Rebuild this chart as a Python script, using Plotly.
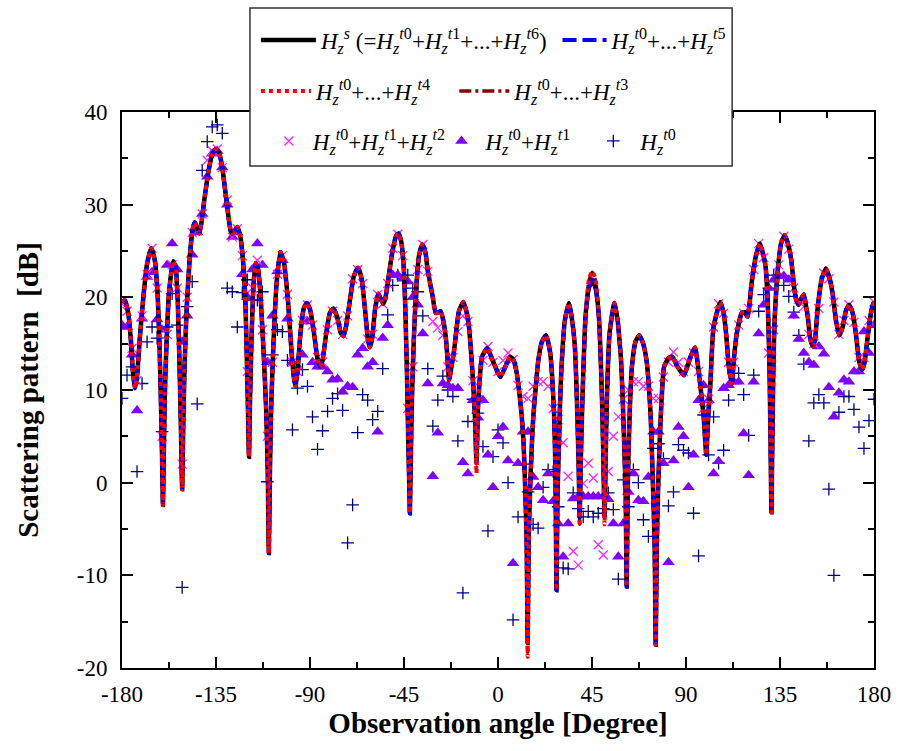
import numpy as np
import plotly.graph_objects as go

FONT = "Liberation Serif"

# ---------------- main curve H_z^s ----------------
ang = [-180, -178.6, -177, -175.8, -174.8, -173.8, -172.8, -171.5, -170, -168, -166, -164.3, -163, -162, -161.3,
       -160.8, -160.4, -160, -159.5, -158.7, -157.5, -155.5, -154.3, -153.3, -152.5, -151.8, -151.2, -150.7, -150,
       -149, -147.5, -146.2, -145.2, -144, -143, -142, -140.6, -138.2, -136.5, -135, -133.5, -132, -130.3, -128,
       -127.1, -126, -124.8, -123.3, -122.2, -121, -120.3, -119.7, -119.2, -118.7, -118, -117, -116, -114.8, -113.5,
       -112.2, -111, -110.2, -109.7, -109.2, -108.6, -107.5, -106, -104.2, -102.5, -100.5, -98.8, -97.8, -97, -96,
       -94.5, -93, -91.5, -90, -88.3, -86.5, -85.2, -84, -82.3, -80.5, -78.8, -77, -75.3, -74, -72.8, -71, -69, -67,
       -65.3, -63.5, -62.3, -61.4, -60.3, -58.8, -57.3, -56, -55, -54, -52.5, -50.5, -48.8, -47.6, -46.3, -45.2,
       -44.4, -43.6, -43, -42.5, -42.2, -41.8, -41.2, -40.3, -39.2, -37.8, -36.2, -34.7, -33.7, -31.3, -29.8, -28.5,
       -27.4, -26.2, -25, -24.2, -23.4, -22.3, -21, -18.7, -16.6, -14.8, -13.9, -12.7, -11.9, -11, -10.3, -9.6,
       -8.8, -7.6, -5.2, -2, 1.1, 3.5, 5.8, 7.5, 9, 10.3, 11.4, 12.3, 13, 13.7, 14.2, 14.7, 15.4, 16.9, 19.3, 21,
       23, 25, 25.9, 26.9, 27.5, 28, 28.5, 29.1, 29.7, 30.4, 32, 34, 35.5, 36.7, 37.4, 38, 38.6, 39.1, 39.6, 40.4,
       41.9, 43.5, 45.1, 46.7, 48.3, 49.8, 50.5, 51, 51.5, 52.1, 53.4, 55.7, 57.3, 58.1, 58.9, 59.7, 60.5, 61.1,
       61.6, 62.1, 62.5, 63.2, 64.1, 65.8, 67.6, 69.5, 71.1, 72.2, 73.1, 74.4, 75, 75.5, 76, 76.6, 77.9, 79.5,
       81.5, 83.4, 86, 89, 92, 94.3, 95.8, 96.9, 98.5, 99.7, 100.6, 101.6, 103.2, 106.4, 108, 109.2, 110.5, 111.9,
       113, 114.3, 116.7, 118, 119.5, 121.4, 123.5, 125.4, 127, 128.1, 129.2, 130, 130.5, 130.9, 131.3, 131.8,
       132.5, 134.1, 135.5, 137.2, 138.8, 140.4, 141.8, 142.8, 143.9, 145, 146.4, 147.5, 148.3, 149.5, 150.7,
       151.8, 153.1, 155, 157, 158.8, 160.2, 161.8, 163.4, 165, 166.5, 168.1, 169.8, 171.3, 173, 174.4, 175.5,
       176.8, 178.3, 179.2, 180]
hs = [19.5, 19.7, 18.3, 15.5, 12, 10.2, 11.5, 15.5, 19.5, 23.6, 25.3, 24, 20.5, 14.5, 8,
      2.5, -2.4, 3, 9.5, 15, 20.5, 23.9, 23.2, 19.5, 13, 6, -0.7, 6, 13,
      19, 24.5, 27.3, 28.1, 27.5, 26.9, 28, 30.5, 34.1, 35.6, 36, 35.6, 34, 31, 27.2,
      26.9, 27.2, 27.6, 26.5, 24.3, 20, 14, 8, 2.8, 9, 15.5, 21.5, 23.7, 23, 19.5,
      14, 8, 1, -7.6, 1, 8, 15, 21.5, 24.9, 23.8, 19.5, 14, 11.5, 10.4, 12,
      16.3, 18.8, 19.4, 18.7, 16.5, 13.5, 12.5, 13.2, 16, 18.3, 18.8, 17.9, 16.2, 15.8, 16.8, 19.5, 22.3, 23.2,
      22, 18.3, 15.5, 14.6, 15.5, 18.8, 20.4, 19.8, 19.3, 19.8, 22, 25, 26.6, 26.9, 26, 23.5,
      19, 12, 5, 0, -3.3, 2, 9, 15.5, 20.8, 24.5, 25.7, 24.8, 23, 20.1, 18.3, 18.4,
      18.5, 17.5, 15.7, 13.5, 11.1, 12.5, 14.3, 18.5, 19.5, 18.2, 16.8, 13.5, 10.7, 7, 2.1, 8,
      11, 13.6, 14.5, 12.9, 11.4, 12.5, 13.6, 13.2, 11.8, 9.5, 7.1, 4, -0.5, -6, -17.3, -6, -0.5, 7.1, 13.2, 15.2,
      15.9, 14, 11.5, 7.1, 1, -11.6, -1, 3.5, 8.5, 12.5, 17.5, 19.4, 17.5, 15, 11.5, 7.1, 2, -3.7, 2, 8.9,
      17.9, 21, 21.9, 21, 17.9, 8.9, 2, -3.7, 2, 8.9, 16.1, 19.4, 17.5, 15.5, 13.2, 9, 3.5, -1,
      -11.2, -1, 3.5, 8.5, 12.5, 15.2, 15.9, 15, 13.2, 10.5, 7.1, -1.9, -7, -17.5, -7, -1, 7.1, 12.5,
      13.4, 13.6, 12.5, 11.6, 13.5, 14.6, 12.5, 10.4, 7, 3, 7, 10.4, 16.8, 19.5, 18.3, 16.1, 12.5, 10.7,
      13.5, 16.1, 18.3, 18.4, 17.9, 21.5, 24.5, 25.8, 24.6, 23.3, 19, 12, 4, -3.2, 4, 12,
      18, 23.3, 25.8, 26.7, 25.8, 24, 21, 19.7, 19.2, 19.8, 20.3, 19, 17.9, 15.5, 14.7,
      15.5, 19, 22, 23.1, 22, 20.4, 17.5, 15.9, 16.8, 18.5, 19.2, 18.3, 16.1, 13, 12.2, 13,
      15.4, 18, 19, 19.5]

# values where the truncated sums (t0..t4 / t0..t3) differ visibly from H_z^s
t4_diff = {-10.3: 1.0, 13.7: -7.5, 14.2: -18.8, 14.7: -7.5, 39.1: -4.7, 43.5: 21.9, 45.1: 22.8,
           46.7: 21.9, 51: -4.5}
t3_diff = {14.2: -18.3, 39.1: -4.5, 43.5: 21.8, 45.1: 22.7, 46.7: 21.8}

# ---------------- sampled series (2.4 deg grid) ----------------
grid = np.round(np.linspace(-180, 180, 151), 1)

t012 = [19.3, 18.5, 14.5, 11.0, 18.0, 22.5, 25.3, 21.0, 5.0, 16.0,
        23.5, 21.0, 2.0, 20.0, 27.0, 27.2, 29.0, 34.8, 35.8, 36.0,
        34.0, 30.5, 26.5, 27.4, 24.5, 12.0, 21.0, 24.0, 16.5, 5.0,
        13.0, 22.5, 24.5, 20.3, 13.0, 12.0, 17.5, 19.2, 17.0, 13.5,
        13.0, 16.5, 18.5, 17.5, 16.0, 18.0, 22.0, 23.0, 21.5, 15.5,
        16.0, 20.3, 19.3, 21.5, 25.3, 26.8, 24.5, 8.0, 12.5, 23.0,
        25.7, 22.8, 17.4, 16.7, 15.9, 12.5, 13.5, 16.3, 18.0, 17.4,
        11.0, 9.0, 13.2, 14.7, 13.0, 12.0, 13.2, 14.0, 13.3, 10.5,
        9.3, 9.1, 10.4, 10.9, 10.9, 10.4, 8.0, 6.8, 4.3, 0.7,
        -7.4, -8.9, -0.1, 2.1, 0.5, -6.7, -7.8, 1.2, 5.0, 7.1,
        9.0, 10.0, 10.9, 10.9, 10.4, 10.4, 9.1, 9.1, 11.4, 13.0,
        14.1, 13.0, 12.0, 13.0, 14.0, 12.0, 8.0, 9.0, 16.8, 19.3,
        18.3, 13.0, 13.0, 17.0, 18.3, 18.8, 23.0, 25.8, 24.3, 14.0,
        16.5, 23.5, 26.6, 25.2, 21.0, 19.8, 19.0, 16.0, 15.0, 18.8,
        22.6, 22.0, 19.5, 16.0, 17.5, 19.2, 17.3, 13.5, 13.5, 17.5,
        19.5]

t01 = [17.0, 16.8, 13.8, 7.8, 17.7, 22.2, 22.7, 17.6, 16.5, 23.5,
       25.8, 23.0, 15.2, 18.0, 24.6, 27.0, 29.0, 33.0, 35.5, 35.8,
       34.0, 30.0, 26.5, 27.0, 22.5, 20.0, 23.0, 25.8, 23.5, 13.0,
       18.0, 22.8, 24.0, 17.7, 13.0, 12.5, 13.8, 17.4, 13.0, 12.5,
       12.5, 12.0, 11.1, 11.2, 9.8, 10.4, 10.3, 13.8, 14.5, 12.5,
       13.0, 5.5, 15.6, 17.0, 22.4, 22.4, 22.0, 21.7, 20.0, 19.2,
       16.1, 10.7, 0.7, 5.4, 10.7, 10.5, 10.2, 10.2, 2.2, 1.0,
       8.9, 7.0, 8.9, 3.0, -0.5, 5.0, 6.0, 2.4, -8.7, 2.1,
       5.5, 5.5, 0.6, -0.5, -1.9, 1.0, -2.0, -4.4, -8.0, -4.4,
       -1.7, -1.5, -1.5, -1.5, -1.5, -1.5, -1.5, -1.8, -4.4, -8.0,
       -4.4, -1.0, 1.0, -1.9, -2.0, 0.6, 5.5, 5.5, 2.1, -8.6,
       2.4, 6.0, 5.0, -0.5, 3.0, 8.9, 10.5, 8.9, 1.0, 2.3,
       10.2, 10.5, 10.9, 10.9, 5.3, 0.8, 10.9, 16.1, 19.2, 21.0,
       21.9, 22.3, 22.3, 21.9, 18.0, 15.5, 14.0, 13.0, 12.7, 14.7,
       13.9, 10.3, 7.1, 9.7, 11.1, 10.9, 12.0, 12.0, 16.3, 14.0,
       17.0]

t0 = [9.1, 11.6, 12.5, 1.2, 10.7, 15.2, 16.8, 15.6, 5.5, 16.8,
      20.4, 17.0, -11.3, 19.0, 21.7, 8.5, 33.7, 36.8, 38.4, 38.6,
      37.7, 21.0, 20.6, 16.8, 20.5, 21.9, 19.7, 19.7, 20.6, 0.1,
      13.8, 16.5, 16.3, 13.2, 5.7, 10.2, 12.2, 10.4, 7.1, 3.6,
      5.6, 7.7, 9.1, 9.6, 7.8, -6.5, -2.4, 5.4, 9.5, 8.9,
      6.8, 7.7, 12.3, 18.1, 21.3, 22.4, 22.0, 22.4, 21.0, 20.6,
      18.0, 12.3, 6.1, 8.9, 11.5, 10.0, 9.3, 4.5, -11.9, 6.6,
      9.0, 7.5, 3.9, -5.2, 2.8, 5.7, 4.3, 0.0, -14.8, -3.7,
      2.0, -1.0, -4.5, -4.9, -0.5, 1.4, 1.2, -2.6, -9.2, -9.3,
      -1.1, -2.8, -3.7, -3.1, -3.7, -3.3, -2.8, -1.1, -2.9, -10.4,
      0.3, -2.6, 1.4, 0.0, -4.0, -5.8, 3.7, 4.2, 2.6, -2.5,
      -1.0, 4.1, 3.5, 3.2, -3.3, -7.9, 7.3, 3.0, 7.1, 2.1,
      3.5, 8.9, 11.8, 11.8, 9.5, 5.1, 11.6, 18.5, 20.3, 21.0,
      22.4, 22.4, 21.3, 20.1, 18.4, 15.9, 12.8, 4.5, 8.6, 9.5,
      8.6, -0.7, -10.0, 7.6, 9.3, 9.3, 7.9, 6.0, 3.7, 6.7,
      9.0]

x_ticks = [-180, -135, -90, -45, 0, 45, 90, 135, 180]
x_ticktext = ["-180", "-135", "-90", "-45", "0", "45", "90", "135", "180"]
y_ticks = [-20, -10, 0, 10, 20, 30, 40]
y_ticktext = ["-20", "-10", "0", "10", "20", "30", "40"]


def hz(sup, z="<i>z</i>"):
    return f"<i>H</i><sub>{z}</sub><sup><i>t</i>{sup}</sup>"


names = {
    "hs": "<i>H</i><sub><i>z</i></sub><sup><i>s</i></sup> (=" + hz("0") + "+" + hz("1") + "+...+" + hz("6") + ")",
    "t5": hz("0") + "+...+" + hz("5"),
    "t4": hz("0") + "+...+" + hz("4"),
    "t3": hz("0") + "+...+" + hz("3"),
    "t2": hz("0") + "+" + hz("1") + "+" + hz("2"),
    "t1": hz("0") + "+" + hz("1", "z"),
    "t0": hz("0"),
}

t4_y = [t4_diff.get(a, v) for a, v in zip(ang, hs)]
t3_y = [t3_diff.get(a, v) for a, v in zip(ang, hs)]

fig = go.Figure()

# scattered sums first
fig.add_trace(go.Scatter(x=grid, y=t0, mode="markers", name=names["t0"], legend="legend7",
                         marker=dict(symbol="cross-thin", size=9, color="#000080",
                                     line=dict(width=1.3, color="#000080"))))
fig.add_trace(go.Scatter(x=grid, y=t01, mode="markers", name=names["t1"], legend="legend6",
                         marker=dict(symbol="triangle-up", size=11, color="#8000FF",
                                     line=dict(width=0))))
fig.add_trace(go.Scatter(x=grid, y=t012, mode="markers", name=names["t2"], legend="legend5",
                         marker=dict(symbol="x-thin", size=9, color="#FF22FF",
                                     line=dict(width=1.3, color="#FF22FF"))))

spl = dict(shape="spline", smoothing=0.5)
fig.add_trace(go.Scatter(x=ang, y=t3_y, mode="lines", name=names["t3"], legend="legend4",
                         line=dict(color="#8B0000", width=3.5, dash="12px,4px,3px,4px", **spl)))
fig.add_trace(go.Scatter(x=ang, y=hs, mode="lines", name=names["hs"], legend="legend",
                         line=dict(color="black", width=4.5, **spl)))
fig.add_trace(go.Scatter(x=ang, y=hs, mode="lines", name=names["t5"], legend="legend2",
                         line=dict(color="#0000FF", width=4, dash="14px,6px", **spl)))
fig.add_trace(go.Scatter(x=ang, y=t4_y, mode="lines", name=names["t4"], legend="legend3",
                         line=dict(color="#FF0000", width=4, dash="dot", **spl)))

L, R, T, B = 122, 23, 112, 83
W, Hh = 903, 751
pw, ph = W - L - R, Hh - T - B


def px(xp):
    return (xp - L) / pw


def py(yp):
    return (Hh - B - yp) / ph


leg_font = dict(family=FONT, size=23, color="black")
# (x_px, y_px, itemwidth)
legend_pos = {"legend": (257, 40, 55), "legend2": (561, 40, 44), "legend3": (257, 91, 50),
              "legend4": (457, 91, 50), "legend5": (266, 141, 38), "legend6": (440, 141, 38),
              "legend7": (590, 141, 44)}
legends = {k: dict(x=px(v[0]), y=py(v[1]), itemwidth=v[2], bgcolor="rgba(0,0,0,0)", borderwidth=0,
                   xanchor="left", yanchor="middle", font=leg_font)
           for k, v in legend_pos.items()}

axis_common = dict(showline=True, linewidth=2, linecolor="black", mirror="allticks",
                   ticks="inside", ticklen=11, tickwidth=2, tickcolor="black",
                   showgrid=False, zeroline=False,
                   tickfont=dict(family=FONT, size=23, color="black"))

fig.update_layout(
    width=W, height=Hh,
    margin=dict(l=L, r=R, t=T, b=B),
    paper_bgcolor="white", plot_bgcolor="white",
    showlegend=True,
    xaxis=dict(range=[-180, 180], tickvals=x_ticks, ticktext=x_ticktext,
               minor=dict(ticks="inside", ticklen=6, tickwidth=2, tickcolor="black",
                          tickvals=[-157.5, -112.5, -67.5, -22.5, 22.5, 67.5, 112.5, 157.5]),
               title=dict(text="<b>Observation angle [Degree]</b>", standoff=3,
                          font=dict(family=FONT, size=29, color="black")),
               ticklabelstandoff=4, **axis_common),
    yaxis=dict(range=[-20, 40], tickvals=y_ticks, ticktext=y_ticktext,
               minor=dict(ticks="inside", ticklen=6, tickwidth=2, tickcolor="black",
                          tickvals=[-15, -5, 5, 15, 25, 35]),
               title=dict(text="<b>Scattering pattern \u00a0[dB]</b>", standoff=30,
                          font=dict(family=FONT, size=29, color="black")),
               ticklabelstandoff=8, **axis_common),
    shapes=[dict(type="rect", xref="paper", yref="paper", x0=px(251), x1=px(737), y0=py(166), y1=py(8),
                 fillcolor="white", line=dict(color="#333333", width=1.5), layer="above")],
    **legends,
)

fig.write_html("out.html")
